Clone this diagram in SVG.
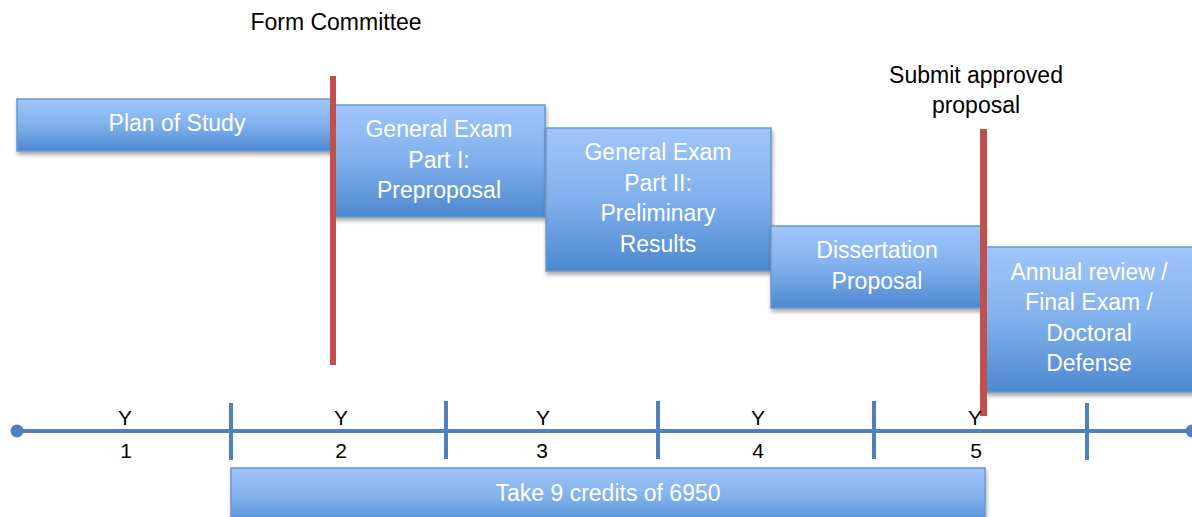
<svg xmlns="http://www.w3.org/2000/svg" width="1192" height="517" viewBox="0 0 1192 517">
<defs>
<linearGradient id="bg" x1="0" y1="0" x2="0" y2="1">
<stop offset="0" stop-color="#a0c6fb"/>
<stop offset="0.5" stop-color="#80b0ec"/>
<stop offset="1" stop-color="#4d88d0"/>
</linearGradient>
<filter id="sh" x="-5%" y="-5%" width="110%" height="120%">
<feDropShadow dx="1" dy="3" stdDeviation="2" flood-color="#000" flood-opacity="0.35"/>
</filter>
<style>
.box{fill:url(#bg);stroke:#6d97cc;stroke-width:1.5;filter:url(#sh)}
.bt{font-family:"Liberation Sans",Arial,sans-serif;font-size:23px;fill:#ffffff;text-anchor:middle}
.lt{font-family:"Liberation Sans",Arial,sans-serif;font-size:23px;fill:#000000;text-anchor:middle}
.ax{font-family:"Liberation Sans",Arial,sans-serif;font-size:21px;fill:#000000;text-anchor:middle}
.red{fill:#c0504d}
.tl{stroke:#4f81bd;stroke-width:4;fill:none}
</style>
</defs>
<rect width="1192" height="517" fill="#ffffff"/>

<g id="connectors">
<line class="tl" x1="17" y1="431" x2="1192" y2="431"/>
<circle cx="17" cy="431" r="6.5" fill="#4f81bd"/>
<circle cx="1192" cy="431" r="6.5" fill="#4f81bd"/>
<line class="tl" x1="231" y1="403" x2="231" y2="460"/>
<line class="tl" x1="446" y1="401" x2="446" y2="459"/>
<line class="tl" x1="658" y1="401" x2="658" y2="459"/>
<line class="tl" x1="874" y1="401" x2="874" y2="459"/>
<line class="tl" x1="1087" y1="403" x2="1087" y2="460"/>
</g>

<g id="axis-labels">
<text class="ax" x="125" y="425">Y</text>
<text class="ax" x="341" y="425">Y</text>
<text class="ax" x="543" y="425">Y</text>
<text class="ax" x="758" y="425">Y</text>
<text class="ax" x="126" y="458">1</text>
<text class="ax" x="341" y="458">2</text>
<text class="ax" x="542" y="458">3</text>
<text class="ax" x="758" y="458">4</text>
<text class="ax" x="976" y="458">5</text>
</g>

<g id="plan-of-study">
<rect class="box" x="17" y="99" width="316" height="52"/>
<text class="bt" x="177" y="131">Plan of Study</text>
</g>

<g id="general-exam-1">
<rect class="box" x="333" y="105" width="212" height="112"/>
<text class="bt" x="439" y="137">General Exam</text>
<text class="bt" x="439" y="168">Part I:</text>
<text class="bt" x="439" y="198">Preproposal</text>
</g>

<g id="general-exam-2">
<rect class="box" x="546" y="128" width="225" height="143"/>
<text class="bt" x="658" y="160">General Exam</text>
<text class="bt" x="658" y="191">Part II:</text>
<text class="bt" x="658" y="221">Preliminary</text>
<text class="bt" x="658" y="252">Results</text>
</g>

<g id="dissertation-proposal">
<rect class="box" x="771" y="226" width="213" height="82"/>
<text class="bt" x="877" y="258">Dissertation</text>
<text class="bt" x="877" y="289">Proposal</text>
</g>

<g id="annual-review">
<rect class="box" x="985" y="247" width="212" height="145"/>
<text class="bt" x="1089" y="280">Annual review /</text>
<text class="bt" x="1089" y="310">Final Exam /</text>
<text class="bt" x="1089" y="341">Doctoral</text>
<text class="bt" x="1089" y="371">Defense</text>
</g>

<g id="take-credits">
<rect class="box" x="231" y="468" width="754" height="60"/>
<text class="bt" x="608" y="501">Take 9 credits of 6950</text>
</g>

<g id="form-committee">
<rect class="red" x="330" y="76" width="6" height="289"/>
<text class="lt" x="336" y="30">Form Committee</text>
</g>

<g id="submit-proposal">
<rect class="red" x="980" y="129" width="7" height="287"/>
<text class="lt" x="976" y="83">Submit approved</text>
<text class="lt" x="976" y="113">proposal</text>
</g>

<text class="ax" x="975" y="425">Y</text>
</svg>
